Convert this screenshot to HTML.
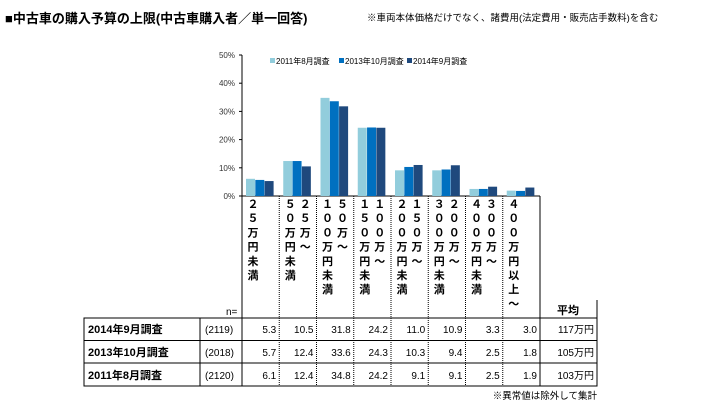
<!DOCTYPE html>
<html><head><meta charset="utf-8">
<style>
body{margin:0;background:#fff;width:715px;height:413px;overflow:hidden;font-family:"Liberation Sans","Noto Sans CJK JP",sans-serif;}
svg text{font-family:"Liberation Sans","Noto Sans CJK JP",sans-serif;}
</style></head>
<body>
<svg id="chart" width="715" height="413" xmlns="http://www.w3.org/2000/svg">
<text x="5" y="23" font-size="13" font-weight="bold">■中古車の購入予算の上限(中古車購入者／単一回答)</text>
<text x="367" y="21" font-size="9.5">※車両本体価格だけでなく、諸費用(法定費用・販売店手数料)を含む</text>
<g id="g"></g>
</svg>
<script>
const categories=[["２５万円未満"],["５０万円未満","２５万～"],["１００万円未満","５０万～"],["１５０万円未満","１００万～"],["２００万円未満","１５０万～"],["３００万円未満","２００万～"],["４００万円未満","３００万～"],["４００万円以上～"]];
const seriesNames=["2011年8月調査","2013年10月調査","2014年9月調査"];
const s2011=[6.1,12.4,34.8,24.2,9.1,9.1,2.5,1.9];
const s2013=[5.7,12.4,33.6,24.3,10.3,9.4,2.5,1.8];
const s2014=[5.3,10.5,31.8,24.2,11.0,10.9,3.3,3.0];
const nValues=["(2119)","(2018)","(2120)"];
const averages=["117万円","105万円","103万円"];
const yTicks=[0,10,20,30,40,50];
const colors=["#92cddc","#0070c0","#1f497d"];
const NS="http://www.w3.org/2000/svg";
const g=document.getElementById("g");
const x0=242,cw=37.25,yBase=196,yTop=55;
const y=v=>yBase-(v/50)*(yBase-yTop);
const xc=i=>x0+i*cw;
function mk(t,a,txt){const e=document.createElementNS(NS,t);for(const k in a)e.setAttribute(k,a[k]);if(txt!==undefined)e.textContent=txt;g.appendChild(e);return e;}
let e=mk("line",{x1:x0,y1:yTop,x2:x0,y2:386,stroke:"#000","stroke-width":1});


yTicks.forEach(t=>{
 let l=mk("text",{x:x0-7,y:y(t)+3,"font-size":8,"text-anchor":"end",fill:"#333"},t+"%");
 
 
 mk("line",{x1:x0-3,y1:y(t),x2:x0,y2:y(t),stroke:"#000"});
});
e=mk("line",{x1:x0,y1:yBase,x2:540,y2:yBase,stroke:"#000"});


const series=[s2011,s2013,s2014];
series.forEach((s,si)=>s.forEach((v,i)=>{
 const r=mk("rect",{x:xc(i)+4+si*9.3,y:y(v),width:9,height:yBase-y(v),fill:colors[si]});
 
 
}));
const lx=[270,339,407];
seriesNames.forEach((n,i)=>{
 const r=mk("rect",{x:lx[i],y:58,width:5,height:5,fill:colors[i]});
 
 
 const t=mk("text",{x:lx[i]+6,y:64,"font-size":8},n);
 
 
});
for(let i=1;i<8;i++){mk("line",{x1:xc(i),y1:yBase,x2:xc(i),y2:386,stroke:"#000","stroke-dasharray":"1,1"});}
mk("line",{x1:540,y1:yBase,x2:540,y2:386,stroke:"#000"});
mk("line",{x1:597,y1:300,x2:597,y2:386,stroke:"#000"});
categories.forEach((c,i)=>{
 const cols=c.length==1?[xc(i)+11]:[xc(i)+11,xc(i)+26];
 c.forEach((str,k)=>{
  [...str].forEach((ch,j)=>{
   const t=mk("text",{x:cols[k],y:208+j*14.2,"font-size":11,"font-weight":"bold","text-anchor":"middle"},ch);
   
   
  });
 });
});
mk("rect",{x:84,y:318,width:513,height:68,fill:"none",stroke:"#000"});
mk("line",{x1:84,y1:340.5,x2:597,y2:340.5,stroke:"#000"});
mk("line",{x1:84,y1:363,x2:597,y2:363,stroke:"#000"});
mk("line",{x1:200,y1:318,x2:200,y2:386,stroke:"#000"});
let t=mk("text",{x:226,y:315,"font-size":10},"n=");


t=mk("text",{x:568,y:314,"font-size":11,"font-weight":"bold","text-anchor":"middle"},"平均");


const rows=[["2014年9月調査",s2014],["2013年10月調査",s2013],["2011年8月調査",s2011]];
const rowY=[333,356,379];
rows.forEach((r,ri)=>{
 let a=mk("text",{x:88,y:rowY[ri],"font-size":11,"font-weight":"bold"},r[0]);
 
 
 a=mk("text",{x:205,y:rowY[ri],"font-size":10},nValues[ri]);
 
 
 r[1].forEach((v,i)=>{
  const c=mk("text",{x:xc(i+1)-3,y:rowY[ri],"font-size":10,"text-anchor":"end"},v.toFixed(1));
  
  
 });
 a=mk("text",{x:594,y:rowY[ri],"font-size":10,"text-anchor":"end"},averages[ri]);
 
 
});
t=mk("text",{x:597,y:399,"font-size":9.5,"text-anchor":"end"},"※異常値は除外して集計");


</script>
</body></html>
